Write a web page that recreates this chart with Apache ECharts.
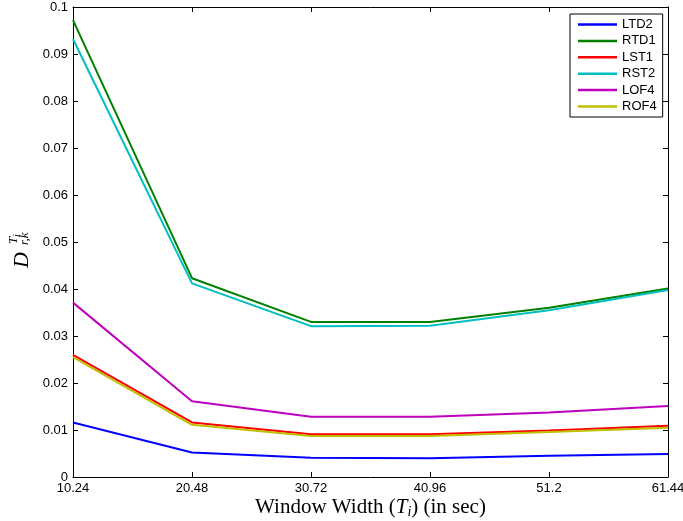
<!DOCTYPE html>
<html>
<head>
<meta charset="utf-8">
<script src="https://cdn.jsdelivr.net/npm/echarts@6/dist/echarts.min.js"></script>
<style>html,body{margin:0;padding:0;background:#fff;}#chart{width:683px;height:521px;}</style>
</head>
<body>
<div id="chart"></div>
<script>
const categories = ['10.24', '20.48', '30.72', '40.96', '51.2', '61.44'];
const LTD2 = [0.0116, 0.0052, 0.0041, 0.0040, 0.0045, 0.0049];
const RTD1 = [0.0972, 0.0423, 0.0330, 0.0330, 0.0360, 0.0401];
const LST1 = [0.0260, 0.0116, 0.0091, 0.0091, 0.0099, 0.0109];
const RST2 = [0.0932, 0.0412, 0.0321, 0.0322, 0.0355, 0.0398];
const LOF4 = [0.0371, 0.0161, 0.0128, 0.0128, 0.0137, 0.0151];
const ROF4 = [0.0255, 0.0111, 0.0087, 0.0087, 0.0096, 0.0105];
const seriesNames = ['LTD2', 'RTD1', 'LST1', 'RST2', 'LOF4', 'ROF4'];
const seriesData = [LTD2, RTD1, LST1, RST2, LOF4, ROF4];
const seriesColors = ['#0000ff', '#008000', '#ff0000', '#00bfbf', '#bf00bf', '#bfbf00'];

const chart = echarts.init(document.getElementById('chart'), null, {renderer: 'canvas'});
const labelFont = {fontFamily: '"Liberation Sans", Arial, sans-serif', fontSize: 13, color: '#000'};
const axisLine = {show: true, onZero: false, lineStyle: {color: '#000', width: 1}};
const tick = {show: true, inside: true, length: 5, lineStyle: {color: '#000', width: 1}};
const serif = '"Liberation Serif", "Times New Roman", serif';

chart.setOption({
  animation: false,
  backgroundColor: '#fff',
  grid: {left: 73, right: 15, top: 7, bottom: 44, containLabel: false, outerBoundsMode: 'none'},
  legend: {
    orient: 'vertical',
    left: 570,
    top: 14,
    padding: [4, 6, 4, 8],
    itemGap: 3.4,
    itemWidth: 39,
    itemHeight: 2.5,
    icon: 'rect',
    borderColor: '#000',
    borderWidth: 1,
    backgroundColor: '#fff',
    textStyle: {fontFamily: '"Liberation Sans", Arial, sans-serif', fontSize: 13, color: '#000'},
    data: seriesNames
  },
  xAxis: [{
    type: 'category',
    data: categories,
    boundaryGap: false,
    axisLine: axisLine,
    axisTick: tick,
    axisLabel: Object.assign({margin: 5, showMinLabel: true, showMaxLabel: true, interval: 0}, labelFont),
    splitLine: {show: false},
    name: '{a|Window Width (}{b|T}{c|i}{a|) (in sec)}',
    nameLocation: 'middle',
    nameGap: 19,
    nameMoveOverlap: false,
    nameTextStyle: {
      rich: {
        a: {fontFamily: serif, fontSize: 21, lineHeight: 23, color: '#000'},
        b: {fontFamily: serif, fontStyle: 'italic', fontSize: 21, lineHeight: 23, color: '#000'},
        c: {fontFamily: serif, fontStyle: 'italic', fontSize: 14, lineHeight: 14, verticalAlign: 'bottom', color: '#000'}
      }
    }
  }, {
    type: 'category',
    data: categories,
    boundaryGap: false,
    position: 'top',
    axisLine: axisLine,
    axisTick: tick,
    axisLabel: {show: false},
    splitLine: {show: false}
  }],
  yAxis: [{
    type: 'value',
    min: 0,
    max: 0.1,
    interval: 0.01,
    axisLine: axisLine,
    axisTick: tick,
    axisLabel: Object.assign({margin: 5, formatter: v => String(+v.toFixed(2))}, labelFont),
    splitLine: {show: false}
  }, {
    type: 'value',
    min: 0,
    max: 0.1,
    interval: 0.01,
    position: 'right',
    axisLine: axisLine,
    axisTick: tick,
    axisLabel: {show: false},
    splitLine: {show: false}
  }],
  graphic: [{
    type: 'group',
    x: 22,
    y: 268,
    rotation: Math.PI / 2,
    children: [
      {type: 'text', x: 0, y: 0, style: {text: 'D', font: 'italic 22px "Liberation Serif", serif', fill: '#000', align: 'left', verticalAlign: 'middle'}},
      {type: 'text', x: 24, y: -8, style: {text: 'T', font: 'italic 13px "Liberation Serif", serif', fill: '#000', align: 'left', verticalAlign: 'middle'}},
      {type: 'text', x: 31, y: -5, style: {text: 'i', font: 'italic 10px "Liberation Serif", serif', fill: '#000', align: 'left', verticalAlign: 'middle'}},
      {type: 'text', x: 23, y: 3, style: {text: 'r,k', font: 'italic 13px "Liberation Serif", serif', fill: '#000', align: 'left', verticalAlign: 'middle'}}
    ]
  }],
  series: seriesNames.map((n, i) => ({
    name: n,
    type: 'line',
    data: seriesData[i],
    xAxisIndex: 0,
    yAxisIndex: 0,
    showSymbol: false,
    symbol: 'none',
    lineStyle: {color: seriesColors[i], width: 2},
    itemStyle: {color: seriesColors[i]},
    emphasis: {disabled: true}
  }))
});
</script>
</body>
</html>
